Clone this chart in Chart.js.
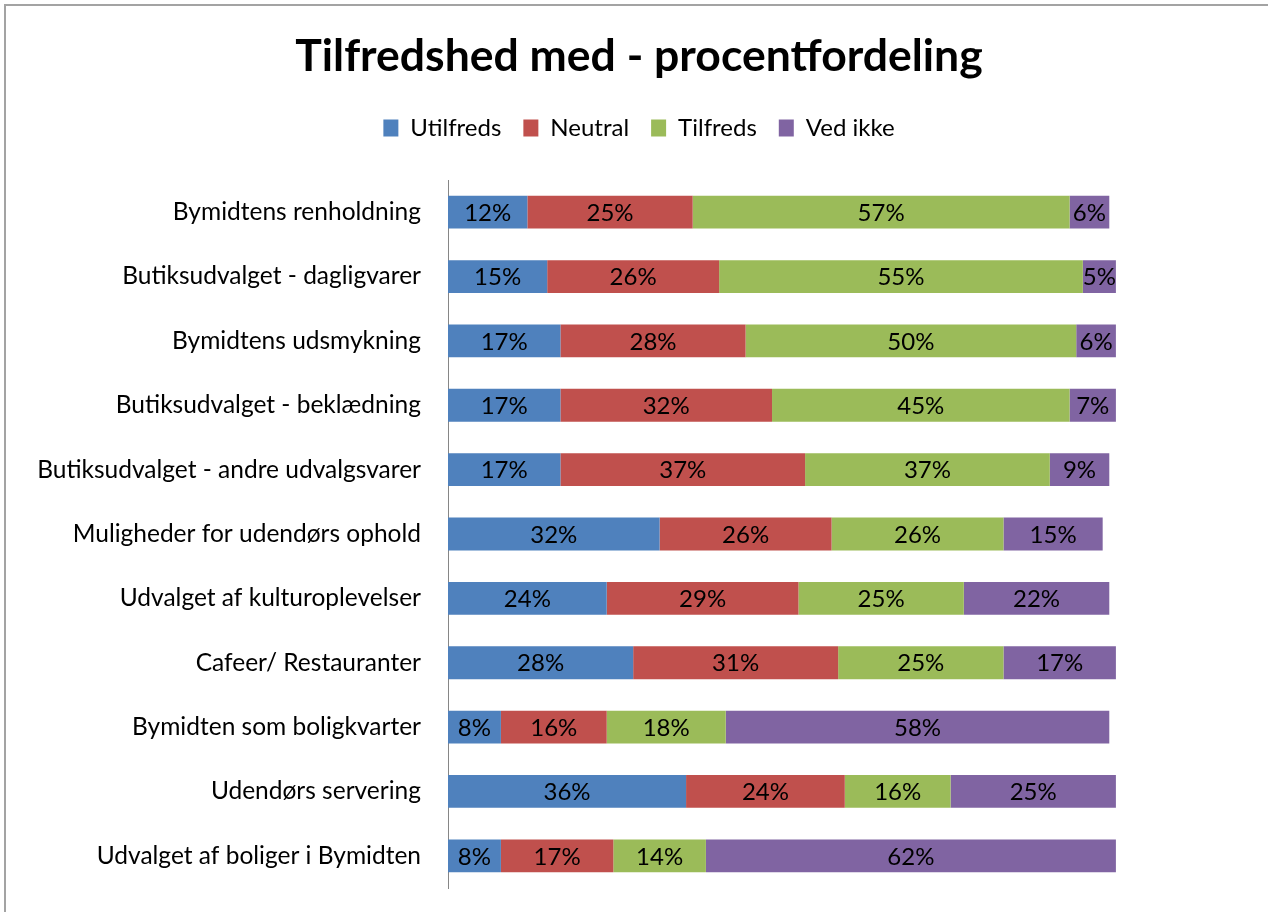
<!DOCTYPE html>
<html>
<head>
<meta charset="utf-8">
<script src="https://cdn.jsdelivr.net/npm/chart.js@4/dist/chart.umd.min.js"></script>
<style>
  html, body { margin: 0; padding: 0; background: #fff; overflow: hidden; }
  #frame { position: absolute; left: 4px; top: 4px; width: 1262px; height: 906px;
           border-left: 2px solid #a3a3a3; border-top: 2px solid #a3a3a3; }
  #wrap { position: absolute; left: 0; top: 0; width: 1268px; height: 912px; }
</style>
</head>
<body>
<div id="frame"></div>
<div id="wrap"><canvas id="chart"></canvas></div>
<script>
var categories = ['Bymidtens renholdning', 'Butiksudvalget - dagligvarer', 'Bymidtens udsmykning',
	'Butiksudvalget - beklædning', 'Butiksudvalget - andre udvalgsvarer', 'Muligheder for udendørs ophold',
	'Udvalget af kulturoplevelser', 'Cafeer/ Restauranter', 'Bymidten som boligkvarter',
	'Udendørs servering', 'Udvalget af boliger i Bymidten'];
var utilfreds = [12, 15, 17, 17, 17, 32, 24, 28, 8, 36, 8];
var neutral   = [25, 26, 28, 32, 37, 26, 29, 31, 16, 24, 17];
var tilfreds  = [57, 55, 50, 45, 37, 26, 25, 25, 18, 16, 14];
var vedIkke   = [6, 5, 6, 7, 9, 15, 22, 17, 58, 25, 62];

var seriesNames = ['Utilfreds', 'Neutral', 'Tilfreds', 'Ved ikke'];
var palette = ['#4F81BD', '#C0504D', '#9BBB59', '#8064A2'];
var fontFamily = 'Lato, "Open Sans", sans-serif';

// writes the percentage in the middle of every bar piece
var valueLabels = {
	id: 'valueLabels',
	afterDatasetsDraw: function (chart) {
		var ctx = chart.ctx;
		ctx.save();
		ctx.font = '24px ' + fontFamily;
		ctx.fillStyle = '#000';
		ctx.textAlign = 'center';
		ctx.textBaseline = 'middle';
		chart.data.datasets.forEach(function (ds, i) {
			chart.getDatasetMeta(i).data.forEach(function (bar, j) {
				ctx.fillText(ds.data[j] + '%', (bar.x + bar.base) / 2, bar.y + 1);
			});
		});
		ctx.restore();
	}
};

var values = [utilfreds, neutral, tilfreds, vedIkke];
var datasets = [];
for (var i = 0; i < values.length; i++) {
	datasets.push({
		label: seriesNames[i],
		data: values[i],
		backgroundColor: palette[i],
		borderWidth: 0,
		categoryPercentage: 1,
		barPercentage: 0.51
	});
}

Chart.defaults.font.family = fontFamily;
Chart.defaults.color = '#000';

var chart = new Chart(document.getElementById('chart').getContext('2d'), {
	type: 'bar',
	data: { labels: categories, datasets: datasets },
	plugins: [valueLabels],
	options: {
		indexAxis: 'y',
		responsive: true,
		maintainAspectRatio: false,
		animation: false,
		layout: { padding: { left: 10, right: 0, top: 0, bottom: 24 } },
		scales: {
			x: { stacked: true, display: false, min: 0, max: 124 },
			y: {
				stacked: true,
				// no tick marks drawn, the tick length only keeps the labels off the axis
				grid: { display: false, drawTicks: true, tickLength: 24 },
				border: { display: true, color: '#868686', width: 1 },
				ticks: { font: { size: 24.5 }, color: '#000', padding: 3 },
				afterFit: function (scale) { scale.width = 438; }
			}
		},
		plugins: {
			title: {
				display: true,
				text: 'Tilfredshed med - procentfordeling',
				font: { size: 44.5, weight: 'bold' },
				color: '#000',
				padding: { top: 30.3, bottom: 10.3 }
			},
			subtitle: {
				// empty spacer under the legend
				display: true,
				text: '',
				position: 'top',
				weight: 500,
				font: { size: 30, lineHeight: 1 },
				padding: 0
			},
			legend: {
				position: 'top',
				labels: { boxWidth: 15, boxHeight: 17, padding: 22, font: { size: 24 }, color: '#000' }
			},
			tooltip: { enabled: false }
		}
	}
});
</script>
</body>
</html>
